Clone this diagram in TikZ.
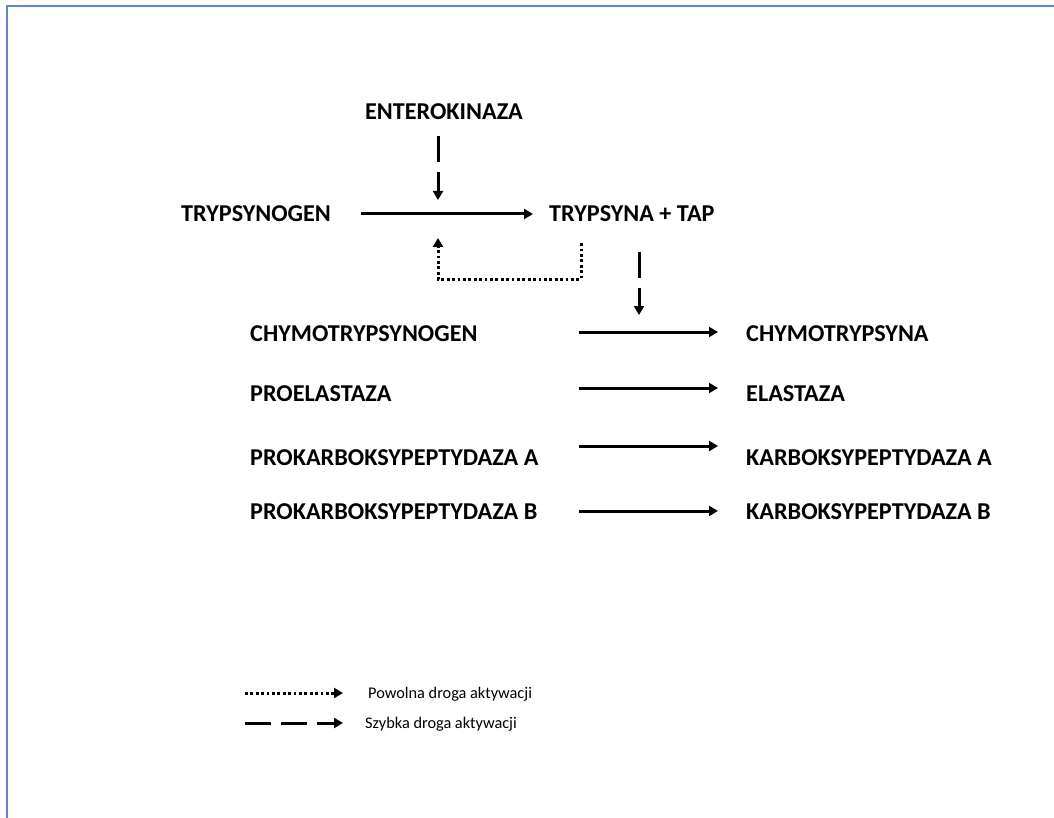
\documentclass[tikz,border=0pt]{standalone}
\usepackage{fontspec}
\setmainfont{Carlito}
\usetikzlibrary{positioning,arrows.meta,calc}
\definecolor{frameblue}{RGB}{95,135,205}

\begin{document}
\begin{tikzpicture}[
  x=1pt, y=-1pt,
  enzyme/.style={font=\fontsize{24.2}{28}\selectfont\bfseries, inner sep=0pt},
  legendtext/.style={font=\fontsize{16.3}{19}\selectfont, inner sep=0pt, anchor=base west},
  reaction/.style={line width=3pt, -{Triangle[length=9pt,width=10pt]}},
  fast/.style={reaction, dash pattern=on 26pt off 10pt},
  slow/.style={reaction, dash pattern=on 2.8pt off 2.6pt}
]
  \useasboundingbox (0,0) rectangle (1054,818);

  % Frame (top and left edge only)
  \draw[frameblue, line width=1.3pt] (7,818) -- (7,6) -- (1054,6);

  % Trypsin activation
  \node[enzyme] (entero) at (444,112) {ENTEROKINAZA};
  \node[enzyme, anchor=west] (trypsinogen) at (181,214) {TRYPSYNOGEN};
  \node[enzyme, anchor=west] (trypsin) at (549,214) {TRYPSYNA + TAP};
  \draw[reaction, shorten <=30pt, shorten >=16pt] (trypsinogen) -- (trypsin);
  \coordinate (act) at (438,213);
  \draw[fast, shorten <=16pt, shorten >=13pt] (entero.south -| act) -- (act);

  % Autoactivation loop
  \draw[slow] ([shift={(32,21)}]trypsin.south west) -- ++(0,36) -| ([shift={(0,25)}]act);

  % Zymogens -> active enzymes
  \node[enzyme, anchor=west] (chymotrypsinogen) at (250,334) {CHYMOTRYPSYNOGEN};
  \node[enzyme, anchor=west] (chymotrypsin) at (746,334) {CHYMOTRYPSYNA};
  \draw[reaction] ([shift={(-167,-2)}]chymotrypsin.west) -- ([shift={(-28,-2)}]chymotrypsin.west);
  \coordinate (cact) at ([shift={(-107,-2)}]chymotrypsin.west);
  \draw[fast, shorten <=30pt, shorten >=17pt] (trypsin.south -| cact) -- (cact);

  \node[enzyme, anchor=west] (proelastase) at (250,394) {PROELASTAZA};
  \node[enzyme, anchor=west] (elastase) at (746,394) {ELASTAZA};
  \draw[reaction] ([shift={(-167,-6)}]elastase.west) -- ([shift={(-28,-6)}]elastase.west);

  \node[enzyme, anchor=west] (procpa) at (250,458) {PROKARBOKSYPEPTYDAZA A};
  \node[enzyme, anchor=west] (cpa) at (746,458) {KARBOKSYPEPTYDAZA A};
  \draw[reaction] ([shift={(-167,-12)}]cpa.west) -- ([shift={(-28,-12)}]cpa.west);

  \node[enzyme, anchor=west] (procpb) at (250,512) {PROKARBOKSYPEPTYDAZA B};
  \node[enzyme, anchor=west] (cpb) at (746,512) {KARBOKSYPEPTYDAZA B};
  \draw[reaction] ([shift={(-167,-1)}]cpb.west) -- ([shift={(-28,-1)}]cpb.west);

  % Legend
  \node[legendtext] (slowlabel) at (368,698) {Powolna droga aktywacji};
  \node[legendtext] (fastlabel) at (365,728) {Szybka droga aktywacji};
  \draw[slow] ([shift={(-123,-5)}]slowlabel.base west) -- ([shift={(-25,-5)}]slowlabel.base west);
  \draw[fast] ([shift={(-120,-5)}]fastlabel.base west) -- ([shift={(-22,-5)}]fastlabel.base west);
\end{tikzpicture}
\end{document}
